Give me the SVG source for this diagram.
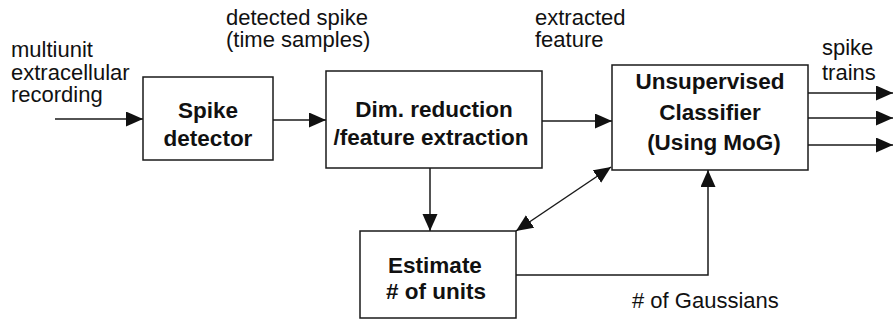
<svg xmlns="http://www.w3.org/2000/svg" width="893" height="320" viewBox="0 0 893 320">
<defs>
<style>
.box{fill:#fff;stroke:#1a1a1a;stroke-width:1.5}
.ln{fill:none;stroke:#1a1a1a;stroke-width:1.5}
.lbl{font-family:"Liberation Sans",Arial,sans-serif;font-size:22px;fill:#111}
.bt{font-family:"Liberation Sans",Arial,sans-serif;font-size:22.5px;font-weight:bold;fill:#111;text-anchor:middle}
</style>
<marker id="ah" markerUnits="userSpaceOnUse" markerWidth="18" markerHeight="16" refX="17" refY="7.5" orient="auto-start-reverse">
<path d="M0,0 L17,7.5 L0,15 z" fill="#111"/>
</marker>
</defs>
<rect width="893" height="320" fill="#fff"/>
<g id="connectors">
<path class="ln" d="M55,119 H143" marker-end="url(#ah)"/>
<path class="ln" d="M273,120 H326" marker-end="url(#ah)"/>
<path class="ln" d="M542,121 H612" marker-end="url(#ah)"/>
<path class="ln" d="M808,93 H893" marker-end="url(#ah)"/>
<path class="ln" d="M808,118 H893" marker-end="url(#ah)"/>
<path class="ln" d="M808,145 H893" marker-end="url(#ah)"/>
<path class="ln" d="M430,168 V231" marker-end="url(#ah)"/>
<path class="ln" d="M516,231 L611,167" marker-start="url(#ah)" marker-end="url(#ah)"/>
<path class="ln" d="M516,275 H708 V170" marker-end="url(#ah)"/>
</g>
<g id="labels">
<text class="lbl" x="11" y="57">multiunit</text>
<text class="lbl" x="11" y="80">extracellular</text>
<text class="lbl" x="11" y="102">recording</text>
<text class="lbl" x="226" y="25">detected spike</text>
<text class="lbl" x="226" y="47">(time samples)</text>
<text class="lbl" x="535" y="25">extracted</text>
<text class="lbl" x="535" y="47">feature</text>
<text class="lbl" x="822" y="55">spike</text>
<text class="lbl" x="822" y="80">trains</text>
<text class="lbl" x="632" y="308"># of Gaussians</text>
</g>
<g id="spike-detector">
<rect class="box" x="143" y="77" width="130" height="83"/>
<text class="bt" x="208" y="118">Spike</text>
<text class="bt" x="208" y="146">detector</text>
</g>
<g id="dim-reduction">
<rect class="box" x="326" y="71" width="216" height="97"/>
<text class="bt" x="434" y="117">Dim. reduction</text>
<text class="bt" x="431" y="145">/feature extraction</text>
</g>
<g id="classifier">
<rect class="box" x="612" y="65" width="196" height="105"/>
<text class="bt" x="710" y="89">Unsupervised</text>
<text class="bt" x="710" y="120">Classifier</text>
<text class="bt" x="714" y="150">(Using MoG)</text>
</g>
<g id="estimate">
<rect class="box" x="360" y="231" width="156" height="87"/>
<text class="bt" x="435" y="273">Estimate</text>
<text class="bt" x="436" y="299"># of units</text>
</g>
</svg>
